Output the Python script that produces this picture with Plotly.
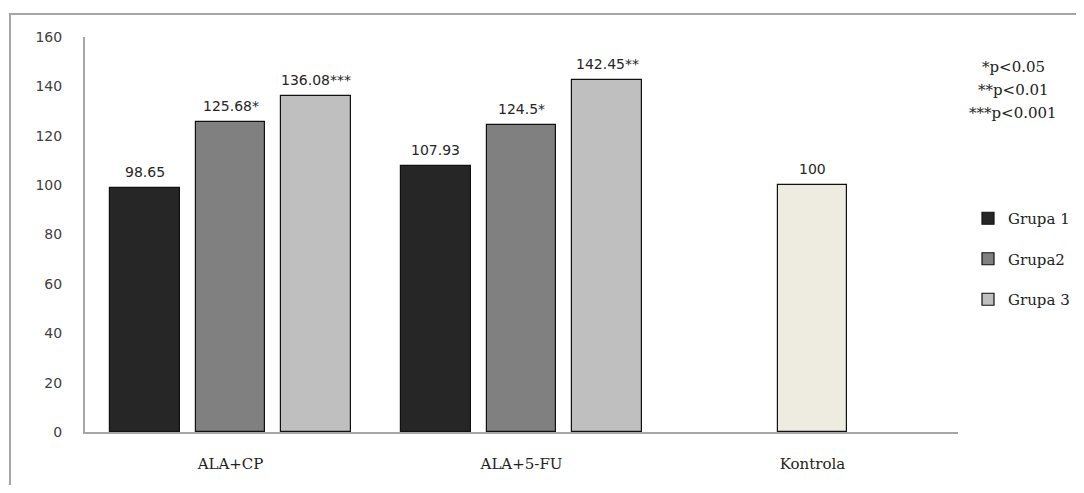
import plotly.graph_objects as go

categories = ["ALA+CP", "ALA+5-FU", "Kontrola"]
series_names = ["Grupa 1", "Grupa2", "Grupa 3"]
grupa1 = [98.65, 107.93]
grupa2 = [125.68, 124.5]
grupa3 = [136.08, 142.45]
kontrola = [100]
labels1 = ["98.65", "107.93"]
labels2 = ["125.68*", "124.5*"]
labels3 = ["136.08***", "142.45**"]
labels_k = ["100"]
y_ticks = [0, 20, 40, 60, 80, 100, 120, 140, 160]
notes = ["*p<0.05", "**p<0.01", "***p<0.001"]

colors = ["#262626", "#808080", "#bfbfbf"]
k_color = "#eeece1"
offsets = [-0.295, 0.0, 0.295]
bw = 0.24
label_font = dict(family="DejaVu Sans", size=14, color="#262626")

# page body has an 8px margin; work in screen pixels and subtract it
OFF = 8
W, H = 1084 - OFF, 493 - 2 * OFF
ml = 85 - OFF
mt = 37 - OFF
mr = W - (958 - OFF)
mb = H - (432 - OFF)
pw, ph = W - ml - mr, H - mt - mb


def px_x(sx):
    return (sx - OFF - ml) / pw


def px_y(sy):
    return 1 - (sy - OFF - mt) / ph


fig = go.Figure()
all_bars = []
for name, vals, labs, col, off in zip(series_names, [grupa1, grupa2, grupa3],
                                       [labels1, labels2, labels3], colors, offsets):
    xs = [i + off for i in range(len(vals))]
    fig.add_trace(go.Bar(
        x=xs, y=vals, name=name, width=bw, legendgroup=name,
        marker=dict(color=col, line=dict(color="#111111", width=1.2)),
    ))
    all_bars += list(zip(xs, vals, labs))
fig.add_trace(go.Bar(
    x=[2], y=kontrola, width=bw, showlegend=False,
    marker=dict(color=k_color, line=dict(color="#111111", width=1.2)),
))
all_bars += list(zip([2], kontrola, labels_k))

for x, y, t in all_bars:
    fig.add_annotation(x=x, y=y, text=t, showarrow=False, xanchor="center",
                       yanchor="bottom", yshift=6, font=label_font)

for i, note in enumerate(notes):
    fig.add_annotation(
        x=px_x(1013), y=px_y(67 + 23 * i), xref="paper", yref="paper",
        text=note, showarrow=False, xanchor="center", yanchor="middle",
        font=dict(family="DejaVu Serif", size=15, color="#222222"),
    )

# outer border
fig.add_shape(type="rect", xref="paper", yref="paper",
              x0=px_x(10), x1=px_x(1120),
              y0=px_y(540), y1=px_y(14),
              line=dict(color="#a6a6a6", width=2), fillcolor="rgba(0,0,0,0)",
              layer="below")

fig.update_layout(
    width=W, height=H,
    margin=dict(l=ml, r=mr, t=mt, b=mb, autoexpand=False),
    plot_bgcolor="white", paper_bgcolor="white",
    barmode="overlay",
    bargap=0,
    showlegend=True,
    legend=dict(x=px_x(968), y=px_y(202), xanchor="left", yanchor="top",
                font=dict(family="DejaVu Serif", size=15, color="#222222"),
                tracegroupgap=18, itemwidth=30, bgcolor="rgba(0,0,0,0)"),
    xaxis=dict(
        range=[-0.5, 2.5], tickmode="array", tickvals=[0, 1, 2], ticktext=categories,
        showgrid=False, zeroline=False, showline=True, linecolor="#a6a6a6", linewidth=2,
        ticks="", ticklabelstandoff=17,
        tickfont=dict(family="DejaVu Serif", size=15, color="#222222"),
    ),
    yaxis=dict(
        range=[0, 160], tickmode="array", tickvals=y_ticks,
        showgrid=False, zeroline=False, showline=True, linecolor="#a6a6a6", linewidth=2,
        ticks="", ticklabelstandoff=18,
        tickfont=dict(family="DejaVu Sans", size=14, color="#404040"),
    ),
)

fig.write_html("out.html")
